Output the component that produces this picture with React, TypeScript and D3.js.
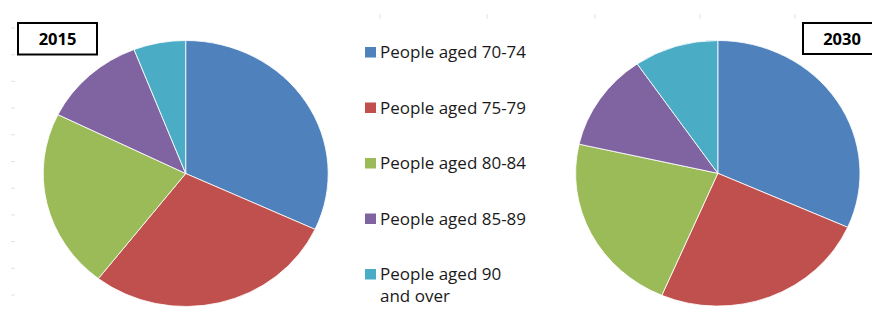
import React from "react";
import * as d3 from "d3";

const categories = [
  "People aged 70-74",
  "People aged 75-79",
  "People aged 80-84",
  "People aged 85-89",
  "People aged 90 and over",
];
const legendLines = [
  ["People aged 70-74"],
  ["People aged 75-79"],
  ["People aged 80-84"],
  ["People aged 85-89"],
  ["People aged 90", "and over"],
];
const values2015 = [31.9, 28.6, 21.8, 11.8, 5.9];
const values2030 = [31.7, 24.8, 22.1, 11.9, 9.6];
const colors = ["#4F81BD", "#C0504D", "#9BBB59", "#8064A2", "#4BACC6"];
const years = ["2015", "2030"];

const W = 872;
const H = 320;
const FONT = "'Open Sans', 'DejaVu Sans', sans-serif";

function Pie({ values, cx, cy, rx, ry }: { values: number[]; cx: number; cy: number; rx: number; ry: number }) {
  const pie = d3.pie<number>().sort(null).value((d) => d);
  const arc = d3.arc<d3.PieArcDatum<number>>().innerRadius(0).outerRadius(ry);
  const arcs = pie(values);
  return (
    <g transform={`translate(${cx},${cy}) scale(${rx / ry},1)`}>
      {arcs.map((a, i) => (
        <path key={i} d={arc(a) || ""} fill={colors[i]} stroke="#ffffff" strokeWidth={0.8} />
      ))}
    </g>
  );
}

export default function App() {
  const leftTicksY = d3.range(11).map((i) => 28 + i * 26.7);
  const topTicksX = [380, 487, 595, 700, 795];
  const legendY = d3.scaleLinear().domain([0, 4]).range([52, 274]);
  return (
    <svg width={W} height={H} style={{ position: "absolute", left: 0, top: 0, background: "#fff" }} fontFamily={FONT}>
      <rect x={0} y={0} width={W} height={H} fill="#fff" />
      {leftTicksY.map((y, i) => (
        <line key={"l" + i} x1={11} x2={15} y1={y} y2={y} stroke="#e2e2e2" strokeWidth={1} />
      ))}
      {topTicksX.map((x, i) => (
        <line key={"t" + i} x1={x} x2={x} y1={14} y2={19} stroke="#e2e2e2" strokeWidth={1} />
      ))}
      <Pie values={values2015} cx={185.7} cy={173.5} rx={142.5} ry={133} />
      <Pie values={values2030} cx={717.8} cy={173.3} rx={142.2} ry={132.8} />
      {/* year boxes */}
      <rect x={18} y={23} width={79} height={31.5} fill="#fff" stroke="#000" strokeWidth={2} />
      <text x={57.5} y={45} textAnchor="middle" fontSize={16.5} fontWeight="bold" fill="#000">{years[0]}</text>
      <rect x={803} y={23} width={75} height={31} fill="#fff" stroke="#000" strokeWidth={2} />
      <text x={842} y={44.5} textAnchor="middle" fontSize={16.5} fontWeight="bold" fill="#000">{years[1]}</text>
      {/* legend */}
      {categories.map((c, i) => {
        const y = legendY(i);
        return (
          <g key={c}>
            <rect x={365} y={y - 5} width={11} height={10.5} fill={colors[i]} />
            {legendLines[i].map((ln, j) => (
              <text key={j} x={380} y={y + 6 + j * 22} fontSize={17} fill="#1a1a1a">{ln}</text>
            ))}
          </g>
        );
      })}
    </svg>
  );
}
